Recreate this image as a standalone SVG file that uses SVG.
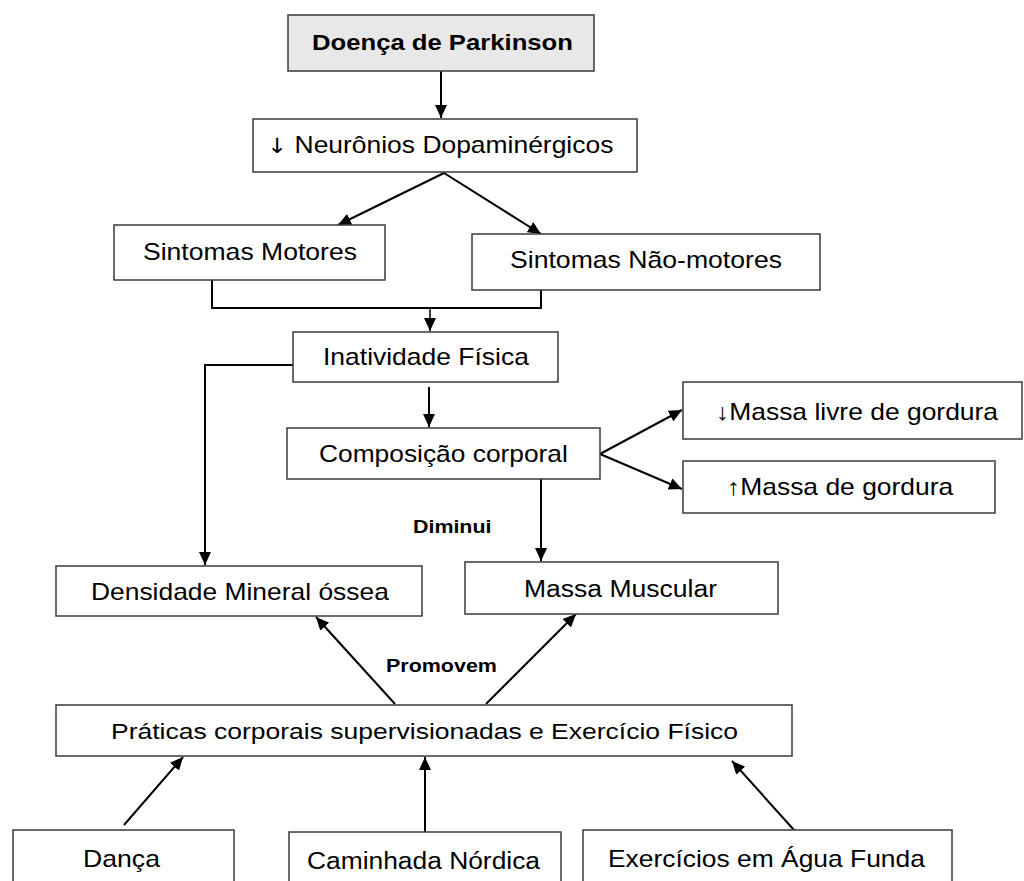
<svg xmlns="http://www.w3.org/2000/svg" width="1024" height="881" viewBox="0 0 1024 881">
<style>
.box{fill:#fff;stroke:#3a3a3a;stroke-width:1.5}
.gray{fill:#e8e8e8}
.t{font-family:"Liberation Sans",Arial,sans-serif;font-size:23px;fill:#000}
.b{font-family:"Liberation Sans",Arial,sans-serif;font-weight:bold;fill:#000}
.c{fill:none;stroke:#000;stroke-width:2}
.dv{font-family:"DejaVu Sans",sans-serif;font-size:21px}
</style>
<defs>
<marker id="ah" markerUnits="userSpaceOnUse" markerWidth="14" markerHeight="12" refX="13" refY="6" orient="auto">
<path d="M0,0 L13,6 L0,12 Z" fill="#000"/>
</marker>
</defs>
<rect width="1024" height="881" fill="#fff"/>
<g id="connectors">
<line class="c" x1="441" y1="71" x2="441" y2="118" marker-end="url(#ah)"/>
<line class="c" x1="444" y1="173" x2="338" y2="225" marker-end="url(#ah)"/>
<line class="c" x1="444" y1="173" x2="541" y2="234" marker-end="url(#ah)"/>
<polyline class="c" points="212,280 212,308 541,308 541,290"/>
<line class="c" style="stroke-width:1.5" x1="430" y1="308" x2="430" y2="331" marker-end="url(#ah)"/>
<polyline class="c" points="293,365 205,365 205,565" marker-end="url(#ah)"/>
<line class="c" x1="429" y1="387" x2="429" y2="427" marker-end="url(#ah)"/>
<line class="c" x1="600" y1="454" x2="682" y2="410" marker-end="url(#ah)"/>
<line class="c" x1="600" y1="454" x2="682" y2="489" marker-end="url(#ah)"/>
<line class="c" x1="541" y1="479" x2="541" y2="561" marker-end="url(#ah)"/>
<line class="c" x1="395" y1="704" x2="316" y2="617" marker-end="url(#ah)"/>
<line class="c" x1="486" y1="704" x2="576" y2="614" marker-end="url(#ah)"/>
<line class="c" x1="124" y1="825" x2="183" y2="757" marker-end="url(#ah)"/>
<line class="c" x1="425" y1="832" x2="425" y2="757" marker-end="url(#ah)"/>
<line class="c" x1="794" y1="830" x2="732" y2="761" marker-end="url(#ah)"/>
</g>
<g id="labels">
<text class="b" font-size="18" transform="translate(413,533) scale(1.19,1)">Diminui</text>
<text class="b" font-size="19" transform="translate(386,672) scale(1.13,1)">Promovem</text>
</g>
<g id="n-parkinson">
<rect class="box gray" x="288" y="15" width="306" height="56"/>
<text class="b" font-size="22" transform="translate(312,50) scale(1.167,1)">Doença de Parkinson</text>
</g>
<g id="n-neuronios">
<rect class="box" x="253" y="119" width="384" height="53"/>
<text class="t" transform="translate(267,153) scale(1.15,1)"><tspan class="dv">↓</tspan> Neurônios Dopaminérgicos</text>
</g>
<g id="n-motores">
<rect class="box" x="114" y="225" width="271" height="55"/>
<text class="t" transform="translate(143,260) scale(1.155,1)">Sintomas Motores</text>
</g>
<g id="n-naomotores">
<rect class="box" x="472" y="234" width="348" height="56"/>
<text class="t" transform="translate(510,268) scale(1.157,1)">Sintomas Não-motores</text>
</g>
<g id="n-inatividade">
<rect class="box" x="293" y="332" width="265" height="50"/>
<text class="t" transform="translate(323,365) scale(1.151,1)">Inatividade Física</text>
</g>
<g id="n-composicao">
<rect class="box" x="287" y="428" width="313" height="51"/>
<text class="t" transform="translate(319,462) scale(1.146,1)">Composição corporal</text>
</g>
<g id="n-massalivre">
<rect class="box" x="683" y="382" width="339" height="57"/>
<text class="t" transform="translate(716,420) scale(1.15,1)">↓Massa livre de gordura</text>
</g>
<g id="n-massagordura">
<rect class="box" x="683" y="461" width="312" height="52"/>
<text class="t" transform="translate(727,495) scale(1.15,1)">↑Massa de gordura</text>
</g>
<g id="n-densidade">
<rect class="box" x="56" y="566" width="366" height="50"/>
<text class="t" transform="translate(91,600) scale(1.148,1)">Densidade Mineral óssea</text>
</g>
<g id="n-muscular">
<rect class="box" x="465" y="562" width="313" height="52"/>
<text class="t" transform="translate(524,597) scale(1.153,1)">Massa Muscular</text>
</g>
<g id="n-praticas">
<rect class="box" x="56" y="705" width="736" height="51"/>
<text class="t" transform="translate(111,739) scale(1.152,1)">Práticas corporais supervisionadas e Exercício Físico</text>
</g>
<g id="n-danca">
<rect class="box" x="13" y="830" width="221" height="60"/>
<text class="t" transform="translate(83,867) scale(1.158,1)">Dança</text>
</g>
<g id="n-caminhada">
<rect class="box" x="289" y="832" width="272" height="60"/>
<text class="t" transform="translate(307,869) scale(1.147,1)">Caminhada Nórdica</text>
</g>
<g id="n-agua">
<rect class="box" x="583" y="830" width="369" height="60"/>
<text class="t" transform="translate(608,867) scale(1.148,1)">Exercícios em Água Funda</text>
</g>
</svg>
